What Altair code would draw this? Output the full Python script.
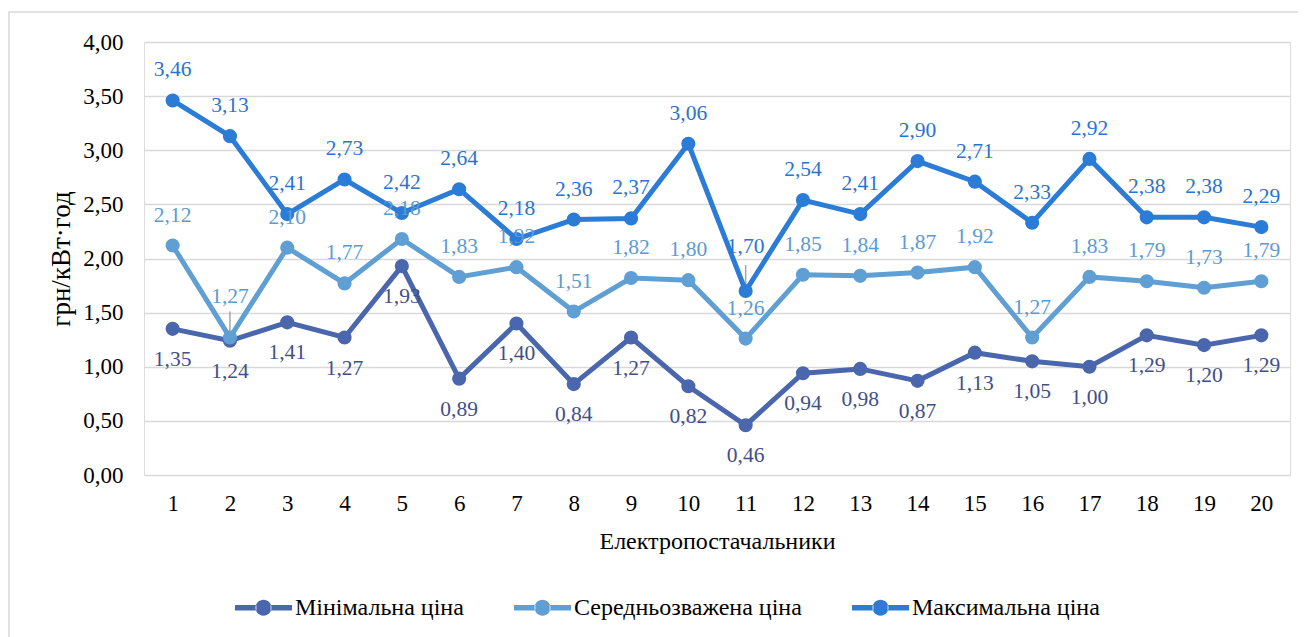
import altair as alt
import pandas as pd

suppliers = list(range(1, 21))
min_price = [1.35, 1.24, 1.41, 1.27, 1.93, 0.89, 1.40, 0.84, 1.27, 0.82,
             0.46, 0.94, 0.98, 0.87, 1.13, 1.05, 1.00, 1.29, 1.20, 1.29]
avg_price = [2.12, 1.27, 2.10, 1.77, 2.18, 1.83, 1.92, 1.51, 1.82, 1.80,
             1.26, 1.85, 1.84, 1.87, 1.92, 1.27, 1.83, 1.79, 1.73, 1.79]
max_price = [3.46, 3.13, 2.41, 2.73, 2.42, 2.64, 2.18, 2.36, 2.37, 3.06,
             1.70, 2.54, 2.41, 2.90, 2.71, 2.33, 2.92, 2.38, 2.38, 2.29]
series_names = ["Мінімальна ціна", "Середньозважена ціна", "Максимальна ціна"]
line_colors = ["#4a66ac", "#5f9fd3", "#2b7cd6"]
label_colors = ["#3f4f8a", "#5b9bd5", "#2c73cf"]

rows = []
for name, vals in zip(series_names, [min_price, avg_price, max_price]):
    for n, v in zip(suppliers, vals):
        rows.append({"n": n, "series": name, "value": v})
df = pd.DataFrame(rows)

FONT = "Liberation Serif"

x_enc = alt.X("n:O", scale=alt.Scale(type="point", padding=0.5),
              axis=alt.Axis(title="Електропостачальники", labelAngle=0, domain=False,
                            ticks=False, labelFontSize=23, labelColor="#000000",
                            labelPadding=17, titleFontSize=24, titleFontWeight="normal",
                            titleColor="#000000", titlePadding=14, labelFont=FONT, titleFont=FONT))
y_axis = alt.Axis(title="грн/кВт·год", values=[0, 0.5, 1, 1.5, 2, 2.5, 3, 3.5, 4],
                  labelExpr="replace(format(datum.value, '.2f'), '.', ',')",
                  domain=False, ticks=False, grid=True, gridColor="#d9d9d9",
                  gridWidth=1.5, labelFontSize=23, labelColor="#000000",
                  labelPadding=21, titleFontSize=27, titleFontWeight="normal",
                  titleColor="#000000", titlePadding=7, labelFont=FONT, titleFont=FONT)
y_scale = alt.Scale(domain=[0, 4])
y_enc = alt.Y("value:Q", scale=y_scale, axis=y_axis, title="грн/кВт·год")

legend_path = ("M-1,-0.1L-0.25,-0.1L-0.25,0.1L-1,0.1Z "
               "M0.25,-0.1L1,-0.1L1,0.1L0.25,0.1Z "
               "M-0.28,0A0.28,0.28 0 1,0 0.28,0A0.28,0.28 0 1,0 -0.28,0Z")
legend = alt.Legend(orient="none", legendX=91, legendY=537, direction="horizontal",
                    title=None, symbolType=legend_path, symbolSize=3249,
                    symbolStrokeWidth=0, symbolOpacity=1,
                    labelFont=FONT, labelFontSize=24, labelColor="#000000", labelOffset=3,
                    columnPadding=50, labelLimit=400)
color_enc = alt.Color("series:N", scale=alt.Scale(domain=series_names, range=line_colors),
                      sort=series_names, legend=legend)

base = alt.Chart(df)

frame = alt.Chart(pd.DataFrame({"a": [0]})).mark_rect(
    fill="transparent", stroke="#d9d9d9", strokeWidth=1.5
).encode(x=alt.value(-135), x2=alt.value(1200), y=alt.value(-30), y2=alt.value(660))

lines = base.mark_line(strokeWidth=5).encode(
    x=x_enc, y=y_enc, color=color_enc, order=alt.Order("n:O"),
)

points = base.mark_point(size=200, opacity=1, filled=True).encode(
    x=x_enc, y=y_enc, color=color_enc,
)

leaders = base.transform_filter(
    "(datum.series == 'Середньозважена ціна' && datum.n == 2) || (datum.series == 'Максимальна ціна' && datum.n == 11)"
).transform_calculate(top="datum.value + 0.24").mark_rule(color="#a6a6a6", strokeWidth=1.5).encode(
    x=x_enc, y=y_enc, y2="top:Q"
)

label_expr = "replace(format(datum.value, '.2f'), '.', ',')"

def labels(idx, dy):
    name = series_names[idx]
    c = base.transform_filter(alt.datum.series == name).transform_calculate(
        lab=label_expr,
        ly="datum.value + ((datum.series == 'Середньозважена ціна' && datum.n == 2) ? 0.1 : 0)"
           " + ((datum.series == 'Максимальна ціна' && datum.n == 11) ? 0.13 : 0)",
    ).mark_text(font=FONT, fontSize=21.5, color=label_colors[idx], dy=dy, baseline="middle").encode(
        x=x_enc, y=alt.Y("ly:Q", scale=y_scale, axis=y_axis, title="грн/кВт·год"), text="lab:N"
    )
    return c

chart = alt.layer(
    frame, leaders, lines, points,
    labels(0, 31), labels(1, -30), labels(2, -30),
).properties(
    width=1146, height=433,
    autosize=alt.AutoSizeParams(type="none"),
    padding={"left": 136, "top": 34, "right": 8, "bottom": 165},
).configure_view(stroke="transparent").configure(font=FONT)

chart.save("out.html", embed_options={"renderer": "svg", "actions": False})
